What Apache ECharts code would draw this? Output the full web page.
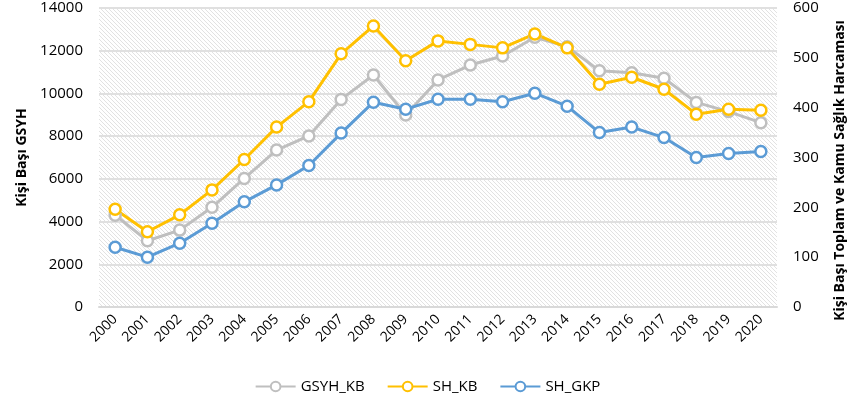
<!DOCTYPE html>
<html>
<head>
<meta charset="utf-8">
<script src="https://cdn.jsdelivr.net/npm/echarts@6/dist/echarts.min.js"></script>
<style>
  html, body { margin: 0; padding: 0; background: #fff; }
  #chart { width: 855px; height: 407px; }
</style>
</head>
<body>
<div id="chart"></div>
<script>
var years = ['2000', '2001', '2002', '2003', '2004', '2005', '2006', '2007', '2008', '2009', '2010',
  '2011', '2012', '2013', '2014', '2015', '2016', '2017', '2018', '2019', '2020'];
// GSYH_KB - sol eksen
var gsyhKb = [4300, 3100, 3600, 4670, 6020, 7350, 8010, 9720, 10860, 8990, 10630,
  11330, 11750, 12630, 12190, 11060, 10970, 10710, 9580, 9150, 8630];
// SH_KB - sag eksen
var shKb = [196, 151, 185, 235, 296, 361, 412, 508, 564, 494, 534,
  527, 520, 548, 520, 447, 461, 437, 387, 397, 395];
// SH_GKP - sag eksen
var shGkp = [120, 100, 128, 168, 211, 245, 284, 349, 411, 397, 417,
  417, 412, 429, 403, 350, 361, 340, 300, 308, 312];

// tarama deseni (arka plan)
var hatch = document.createElement('canvas');
hatch.width = 4;
hatch.height = 4;
var ctx = hatch.getContext('2d');
ctx.fillStyle = '#ffffff';
ctx.fillRect(0, 0, 4, 4);
ctx.fillStyle = '#e2e2e2';
for (var i = 0; i < 4; i++) {
  ctx.fillRect(i, i, 1, 1);
}

var chart = echarts.init(document.getElementById('chart'));
var font = '"Open Sans", sans-serif';

function lineSeries(name, data, color, axis) {
  return {
    name: name,
    type: 'line',
    yAxisIndex: axis,
    data: data,
    symbol: 'circle',
    symbolSize: 11,
    showSymbol: true,
    lineStyle: { color: color, width: 3 },
    itemStyle: { color: '#fff', borderColor: color, borderWidth: 2.5 },
    emphasis: { disabled: true }
  };
}

var option = {
  animation: false,
  backgroundColor: '#fff',
  textStyle: { fontFamily: font },
  legend: {
    bottom: 8,
    left: 'center',
    itemWidth: 40,
    itemHeight: 12,
    itemGap: 22,
    textStyle: { fontSize: 15, color: '#000', fontFamily: font },
    data: ['GSYH_KB', 'SH_KB', 'SH_GKP']
  },
  grid: {
    left: 99,
    right: 74,
    top: 8,
    bottom: 100,
    show: true,
    borderWidth: 0,
    backgroundColor: { image: hatch, repeat: 'repeat' }
  },
  xAxis: {
    type: 'category',
    data: years,
    boundaryGap: true,
    axisLine: { lineStyle: { color: '#d9d9d9', width: 2 } },
    axisTick: { show: false },
    axisLabel: { rotate: 45, fontSize: 14, color: '#000', margin: 10, fontFamily: font }
  },
  yAxis: [
    {
      type: 'value',
      min: 0,
      max: 14000,
      interval: 2000,
      name: 'Kişi Başı GSYH',
      nameLocation: 'middle',
      nameGap: 70,
      nameTextStyle: { fontSize: 14, fontWeight: 'bold', color: '#000', fontFamily: font },
      axisLine: { show: false },
      axisTick: { show: false },
      axisLabel: { fontSize: 15, color: '#000', margin: 16, fontFamily: font, formatter: function (v) { return String(v); } },
      splitLine: { lineStyle: { color: '#e0e0e0', width: 2 } }
    },
    {
      type: 'value',
      min: 0,
      max: 600,
      interval: 100,
      position: 'right',
      name: 'Kişi Başı Toplam ve Kamu Sağlık Harcaması',
      nameLocation: 'middle',
      nameGap: 56,
      nameTextStyle: { fontSize: 14, fontWeight: 'bold', color: '#000', fontFamily: font, padding: [0, 26, 0, 0] },
      axisLine: { show: false },
      axisTick: { show: false },
      axisLabel: { fontSize: 15, color: '#000', margin: 16, fontFamily: font },
      splitLine: { show: false }
    }
  ],
  series: [
    lineSeries('GSYH_KB', gsyhKb, '#bfbfbf', 0),
    lineSeries('SH_KB', shKb, '#ffc000', 1),
    lineSeries('SH_GKP', shGkp, '#5b9bd5', 1)
  ]
};

chart.setOption(option);
</script>
</body>
</html>
